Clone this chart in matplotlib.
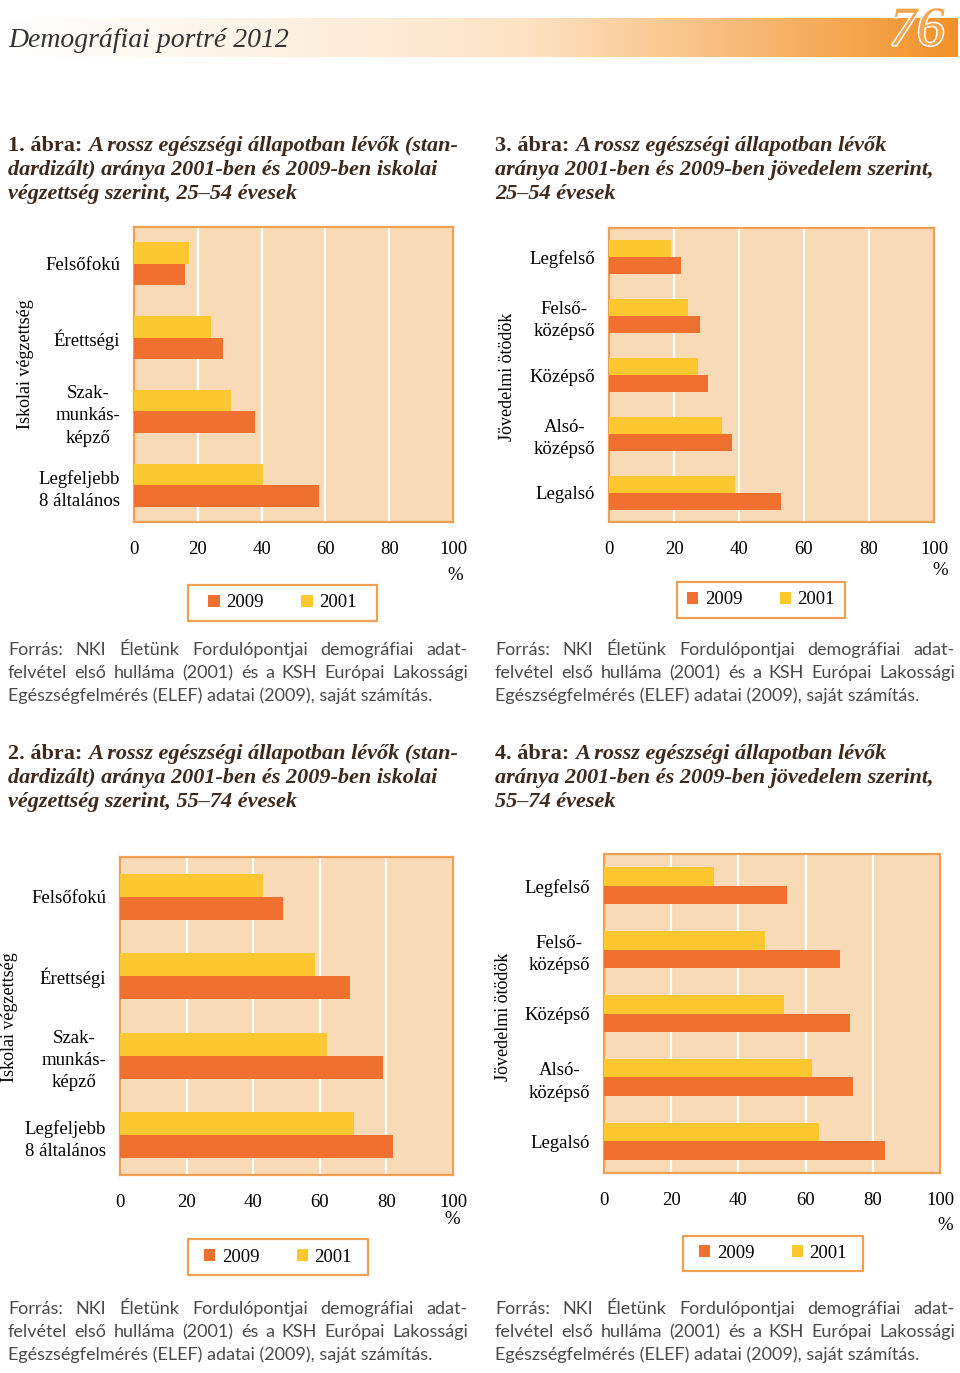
import numpy as np
import matplotlib
matplotlib.use("Agg")
from matplotlib import pyplot as plt
from matplotlib.colors import LinearSegmentedColormap
from matplotlib.patches import Rectangle
import matplotlib.patheffects as pe

# Data (share in poor health, %)
edu_cats = ["Felsőfokú", "Érettségi", "Szak-\nmunkás-\nképző", "Legfeljebb\n8 általános"]
inc_cats = ["Legfelső", "Felső-\nközépső", "Középső", "Alsó-\nközépső", "Legalsó"]

fig1_2001 = [17.2, 24.1, 30.5, 40.5]
fig1_2009 = [16.0, 27.8, 37.9, 58.1]
fig2_2001 = [42.8, 58.6, 62.1, 70.3]
fig2_2009 = [48.9, 69.2, 79.0, 82.0]
fig3_2001 = [19.1, 24.3, 27.5, 34.7, 38.9]
fig3_2009 = [22.2, 27.9, 30.5, 37.9, 53.0]
fig4_2001 = [32.7, 48.0, 53.6, 62.0, 64.1]
fig4_2009 = [54.5, 70.1, 73.2, 74.2, 83.7]

xticks = [0, 20, 40, 60, 80, 100]

ORANGE = "#F07030"
YELLOW = "#FDC82F"
PEACH = "#F9DAB7"
FRAME = "#F0A052"
TITLE_C = "#3d2a1c"
SRC_C = "#4a4a4a"
SERIF = "Liberation Serif"

W, H = 960, 1373
fig = plt.figure(figsize=(W / 100, H / 100), dpi=100)
renderer = fig.canvas.get_renderer()


def fx(x):
    return x / W


def fy(y):
    return 1 - y / H


def box(l, t, r, b):
    return [fx(l), fy(b), (r - l) / W, (b - t) / H]


# header band
hax = fig.add_axes(box(0, 18, 958, 57))
cmap = LinearSegmentedColormap.from_list("hdr", ["#FFFFFF", "#FCE3C4", "#F29128"])
grad = np.linspace(0, 1, 512) ** 1.15
hax.imshow(grad[None, :], cmap=cmap, aspect="auto", extent=[0, 1, 0, 1])
hax.axis("off")
fig.text(fx(8), fy(47), "Demográfiai portré 2012", family=SERIF, style="italic",
         fontsize=20, color="#333333", va="baseline")
fig.text(fx(917), fy(31), "76", family=SERIF, style="italic", fontsize=40,
         color="#F5A54E", ha="center", va="center",
         path_effects=[pe.withStroke(linewidth=2.2, foreground="white")])


def chart(rect, cats, v2001, v2009, ylabel, ylab_xy, pct_xy, leg_box):
    ax = fig.add_axes(box(*rect))
    n = len(cats)
    y = np.arange(n)
    h = 0.29
    ax.barh(y + h / 2, v2009, height=h, color=ORANGE, label="2009", zorder=3)
    ax.barh(y - h / 2, v2001, height=h, color=YELLOW, label="2001", zorder=3)
    ax.set_xlim(0, 100)
    ax.set_ylim(n - 0.5, -0.5)
    ax.set_facecolor(PEACH)
    ax.set_xticks(xticks)
    ax.set_xticklabels([str(t) for t in xticks], family=SERIF, fontsize=13.5)
    ax.set_yticks(y)
    ax.set_yticklabels(cats, family=SERIF, fontsize=13.5)
    for lbl in ax.get_yticklabels():
        lbl.set_multialignment("center")
        lbl.set_linespacing(1.4)
    ax.tick_params(axis="x", length=0, pad=14)
    ax.tick_params(axis="y", length=0, pad=10)
    ax.grid(axis="x", color="white", linewidth=1.6, zorder=1)
    for s in ax.spines.values():
        s.set_color(FRAME)
        s.set_linewidth(1.6)
    fig.text(fx(ylab_xy[0]), fy(ylab_xy[1]), ylabel, rotation=90, family=SERIF,
             fontsize=13, ha="center", va="center")
    fig.text(fx(pct_xy[0]), fy(pct_xy[1]), "%", family=SERIF, fontsize=13.5,
             ha="center", va="center")
    l, t, r, b = leg_box
    fig.patches.append(Rectangle((fx(l), fy(b)), (r - l) / W, (b - t) / H,
                                 transform=fig.transFigure, fill=False,
                                 edgecolor=FRAME, linewidth=1.6))
    ax.legend(loc="center", bbox_to_anchor=(fx((l + r) / 2), fy((t + b) / 2)),
              bbox_transform=fig.transFigure, ncol=2, frameon=False,
              prop={"family": SERIF, "size": 13.5}, handlelength=0.6,
              handleheight=0.6, handletextpad=0.35, columnspacing=2.0)
    return ax


chart((134, 227, 453, 522), edu_cats, fig1_2001, fig1_2009, "Iskolai végzettség",
      (25, 364), (455, 575), (188, 585, 377, 621))
chart((609, 228, 934, 522), inc_cats, fig3_2001, fig3_2009, "Jövedelmi ötödök",
      (508, 377), (940, 570), (677, 582, 845, 618))
chart((120, 857, 453, 1175), edu_cats, fig2_2001, fig2_2009, "Iskolai végzettség",
      (10, 1017), (452, 1220), (188, 1239, 368, 1275))
chart((604, 854, 940, 1173), inc_cats, fig4_2001, fig4_2009, "Jövedelmi ötödök",
      (503, 1017), (945, 1225), (683, 1236, 863, 1271))


def text_width(s, **kw):
    t = fig.text(0, 0, s, **kw)
    w = t.get_window_extent(renderer).width
    t.remove()
    return w


def title(x, y0, num, lines):
    kw = dict(family=SERIF, fontsize=16, weight="bold", color=TITLE_C, va="baseline")
    head = num + " ábra: "
    fig.text(fx(x), fy(y0), head, **kw)
    off = text_width(head, **kw)
    for i, line in enumerate(lines):
        xx = x + off if i == 0 else x
        fig.text(fx(xx), fy(y0 + 24 * i), line, style="italic", **kw)


title(8, 151, "1.", ["A rossz egészségi állapotban lévők (stan-",
                     "dardizált) aránya 2001-ben és 2009-ben iskolai",
                     "végzettség szerint, 25–54 évesek"])
title(495, 151, "3.", ["A rossz egészségi állapotban lévők",
                       "aránya 2001-ben és 2009-ben jövedelem szerint,",
                       "25–54 évesek"])
title(8, 759, "2.", ["A rossz egészségi állapotban lévők (stan-",
                     "dardizált) aránya 2001-ben és 2009-ben iskolai",
                     "végzettség szerint, 55–74 évesek"])
title(495, 759, "4.", ["A rossz egészségi állapotban lévők",
                       "aránya 2001-ben és 2009-ben jövedelem szerint,",
                       "55–74 évesek"])

src_lines = ["Forrás: NKI Életünk Fordulópontjai demográfiai adat-",
             "felvétel első hulláma (2001) és a KSH Európai Lakossági",
             "Egészségfelmérés (ELEF) adatai (2009), saját számítás."]


def source(x0, x1, y0):
    kw = dict(family="Lato", fontsize=13, color=SRC_C, va="center")
    for i, line in enumerate(src_lines):
        y = y0 + 23 * i
        if i == len(src_lines) - 1:
            fig.text(fx(x0), fy(y), line, **kw)
            continue
        words = line.split(" ")
        widths = [text_width(w, **kw) for w in words]
        gap = (x1 - x0 - sum(widths)) / (len(words) - 1)
        xx = x0
        for w, wd in zip(words, widths):
            fig.text(fx(xx), fy(y), w, **kw)
            xx += wd + gap


source(8, 468, 650)
source(495, 955, 650)
source(8, 468, 1309)
source(495, 955, 1309)

fig.savefig("out.png", dpi=100)
